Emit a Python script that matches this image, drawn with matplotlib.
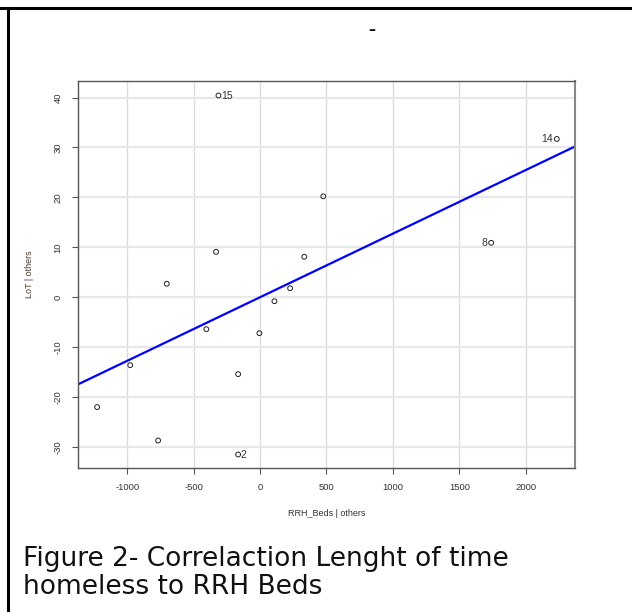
"""
Added-variable plot: length of time homeless vs RRH beds.
"""

import matplotlib
matplotlib.use("Agg")
import matplotlib.pyplot as plt
from matplotlib.lines import Line2D

plt.rcParams["axes.unicode_minus"] = False

# residuals
rrh_beds = [-313, 476, -331, -702, 333, 226, 108, -404, -5, -977, -165,
            -1226, -767, -165, 2233, 1739]
lot = [40.4, 20.2, 9.1, 2.7, 8.1, 1.8, -0.8, -6.4, -7.2, -13.6, -15.4,
       -22.0, -28.7, -31.5, 31.7, 10.9]
point_ids = ["15", "", "", "", "", "", "", "", "", "", "", "", "", "2", "14", "8"]

slope = 0.01274
intercept = 0.0

xticks = [-1000, -500, 0, 500, 1000, 1500, 2000]
yticks = [-30, -20, -10, 0, 10, 20, 30, 40]

tick_font = ["Liberation Sans", "DejaVu Sans"]

fig = plt.figure(figsize=(6.32, 6.12), dpi=100)
ax = fig.add_axes([0.1234, 0.2353, 0.9098 - 0.1234, 0.8676 - 0.2353])

ax.set_xlim(-1370, 2370)
ax.set_ylim(-34.2, 43.3)
ax.set_xticks(xticks)
ax.set_yticks(yticks)

for xv in xticks:
    ax.axvline(xv, color="#dcdcdc", lw=1, zorder=0)
for yv in yticks:
    ax.axhline(yv, color="#e8e8e8", lw=1.6, zorder=0)

ax.scatter(rrh_beds, lot, s=12, facecolors="none", edgecolors="#222222",
           linewidths=0.7, zorder=3)

ax.axline((0, intercept), slope=slope, color="#0000ff", lw=1.6, zorder=2)

# labels for the flagged points
for xv, yv, name in zip(rrh_beds, lot, point_ids):
    if not name:
        continue
    if xv > 1000:
        ax.annotate(name, (xv, yv), xytext=(-3, 0), textcoords="offset points",
                    ha="right", va="center", fontsize=7.5, color="#333333",
                    family=tick_font)
    else:
        ax.annotate(name, (xv, yv), xytext=(2, 0), textcoords="offset points",
                    ha="left", va="center", fontsize=7.5, color="#333333",
                    family=tick_font)

for side in ["left", "bottom", "top", "right"]:
    ax.spines[side].set_color("#555555")
    ax.spines[side].set_linewidth(1)
ax.spines["right"].set_color("#888888")
ax.spines["right"].set_linewidth(1.5)

ax.tick_params(axis="both", length=4, width=0.8, color="#555555",
               labelcolor="#333333", labelsize=6.8)
for lab in ax.get_xticklabels() + ax.get_yticklabels():
    lab.set_family(tick_font)
for lab in ax.get_yticklabels():
    lab.set_rotation(90)
    lab.set_va("center")
ax.tick_params(axis="x", pad=7)
ax.tick_params(axis="y", pad=7)

ax.set_xlabel("RRH_Beds | others", fontsize=6.5, color="#333333",
              family=tick_font, labelpad=12)
ax.set_ylabel("LoT | others", fontsize=6.5, color="#4a3a30",
              family=tick_font, labelpad=14)

fig.text(372 / 632, 1 - 30 / 612, "–", fontsize=10, fontweight="bold",
         ha="center", va="center")

# page borders around the screenshot
fig.add_artist(Line2D([0, 1], [1 - 8 / 612, 1 - 8 / 612], color="black", lw=2.2,
                      transform=fig.transFigure))
fig.add_artist(Line2D([8 / 632, 8 / 632], [0, 1 - 8 / 612], color="black", lw=2.2,
                      transform=fig.transFigure))

fig.text(23 / 632, 1 - 566 / 612, "Figure 2- Correlaction Lenght of time",
         fontsize=19, family="DejaVu Sans", ha="left", va="baseline",
         color="#111111")
fig.text(23 / 632, 1 - 594 / 612, "homeless to RRH Beds",
         fontsize=19, family="DejaVu Sans", ha="left", va="baseline",
         color="#111111")

fig.savefig("out.png", dpi=100)
